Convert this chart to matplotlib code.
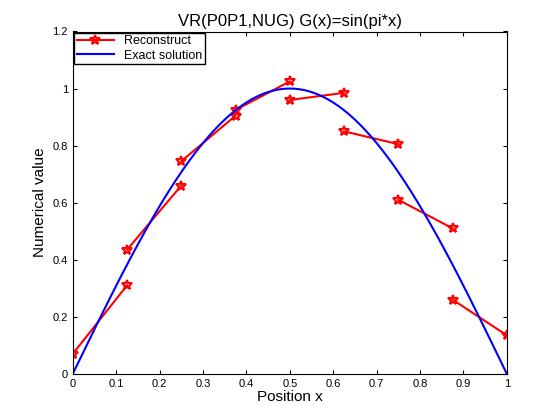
import numpy as np
import matplotlib
matplotlib.use("Agg")
import matplotlib.pyplot as plt

plt.rcParams['font.family'] = ['Liberation Sans', 'DejaVu Sans']

# cell edges and reconstructed left/right values per cell
cell_edges = [0, 0.125, 0.25, 0.375, 0.5, 0.625, 0.75, 0.875, 1.0]
left_vals  = [0.07, 0.435, 0.745, 0.925, 0.96, 0.85, 0.61, 0.26]
right_vals = [0.31, 0.66, 0.905, 1.025, 0.985, 0.805, 0.51, 0.135]

fig = plt.figure(figsize=(5.6, 4.2), dpi=100)
ax = fig.add_axes([0.13, 0.11, 0.775, 0.815])

xs, ys = [], []
for i in range(len(left_vals)):
    xs += [cell_edges[i], cell_edges[i + 1], np.nan]
    ys += [left_vals[i], right_vals[i], np.nan]
ax.plot(xs, ys, color="red", lw=1.5, marker="*", ms=7, mfc="none",
        mew=1.5, label="Reconstruct")

xe = np.linspace(0, 1, 400)
ax.plot(xe, np.sin(np.pi * xe), color="blue", lw=1.5, label="Exact solution")

ax.set_xlim(0, 1)
ax.set_ylim(0, 1.2)
ax.set_xticks(np.arange(0, 1.01, 0.1))
ax.set_xticklabels(["0", "0.1", "0.2", "0.3", "0.4", "0.5", "0.6", "0.7", "0.8", "0.9", "1"])
ax.set_yticks(np.arange(0, 1.21, 0.2))
ax.set_yticklabels(["0", "0.2", "0.4", "0.6", "0.8", "1", "1.2"])
ax.tick_params(direction="in", labelsize=8, top=True, right=True, length=3)
ax.set_xlabel("Position x", fontsize=11, labelpad=1)
ax.set_ylabel("Numerical value", fontsize=11)
ax.set_title("VR(P0P1,NUG) G(x)=sin(pi*x)", fontsize=12, pad=4)
ax.legend(loc="upper left", fontsize=9, fancybox=False, framealpha=1,
          edgecolor="black", borderpad=0.2, handlelength=3, borderaxespad=0.1,
          labelspacing=0.2)

fig.savefig("out.png", dpi=100)
